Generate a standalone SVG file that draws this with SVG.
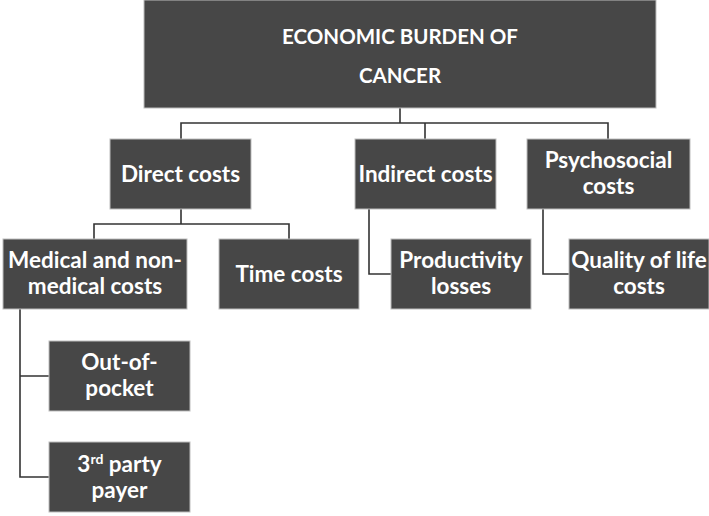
<svg xmlns="http://www.w3.org/2000/svg" width="709" height="516" viewBox="0 0 709 516">
<style>
.box{fill:#474747;stroke:#bdbdbd;stroke-width:1}
.t{font-family:Lato,"Open Sans","Liberation Sans",sans-serif;font-weight:bold;fill:#ffffff;text-anchor:middle;font-size:22.5px}
.tt{font-size:20.5px}
.c{fill:none;stroke:#333333;stroke-width:1.6}
</style>
<rect width="709" height="516" fill="#ffffff"/>
<g id="connectors">
<path class="c" d="M400 108 V123 M181 139 V123 H608 V139 M425 123 V139"/>
<path class="c" d="M181 209 V224 M94 239 V224 H289 V239"/>
<path class="c" d="M369 209 V274 H391"/>
<path class="c" d="M543 209 V274 H569"/>
<path class="c" d="M20 309 V477 H49 M20 376 H49"/>
</g>
<g id="root">
<rect class="box" x="144" y="0" width="512" height="108"/>
<text class="t tt" x="400" y="44">ECONOMIC BURDEN OF</text>
<text class="t tt" x="400" y="83">CANCER</text>
</g>
<g id="direct">
<rect class="box" x="110" y="139" width="141" height="70"/>
<text class="t" x="180.5" y="182">Direct costs</text>
</g>
<g id="indirect">
<rect class="box" x="355" y="139" width="141" height="70"/>
<text class="t" x="425.5" y="182">Indirect costs</text>
</g>
<g id="psychosocial">
<rect class="box" x="527" y="139" width="163" height="70"/>
<text class="t" x="608.5" y="168">Psychosocial</text>
<text class="t" x="608.5" y="194">costs</text>
</g>
<g id="medical">
<rect class="box" x="3" y="239" width="184" height="70"/>
<text class="t" x="95" y="268">Medical and non-</text>
<text class="t" x="95" y="294">medical costs</text>
</g>
<g id="time">
<rect class="box" x="219" y="239" width="140" height="70"/>
<text class="t" x="289" y="282">Time costs</text>
</g>
<g id="productivity">
<rect class="box" x="391" y="239" width="140" height="70"/>
<text class="t" x="461" y="268">Productivity</text>
<text class="t" x="461" y="294">losses</text>
</g>
<g id="quality">
<rect class="box" x="569" y="239" width="140" height="70"/>
<text class="t" x="639" y="268">Quality of life</text>
<text class="t" x="639" y="294">costs</text>
</g>
<g id="outofpocket">
<rect class="box" x="49" y="341" width="141" height="70"/>
<text class="t" x="119.5" y="370">Out-of-</text>
<text class="t" x="119.5" y="396">pocket</text>
</g>
<g id="thirdparty">
<rect class="box" x="49" y="442" width="141" height="70"/>
<text class="t" x="119.5" y="472">3<tspan font-size="14" dy="-8">rd</tspan><tspan dy="8"> party</tspan></text>
<text class="t" x="119.5" y="498">payer</text>
</g>
</svg>
